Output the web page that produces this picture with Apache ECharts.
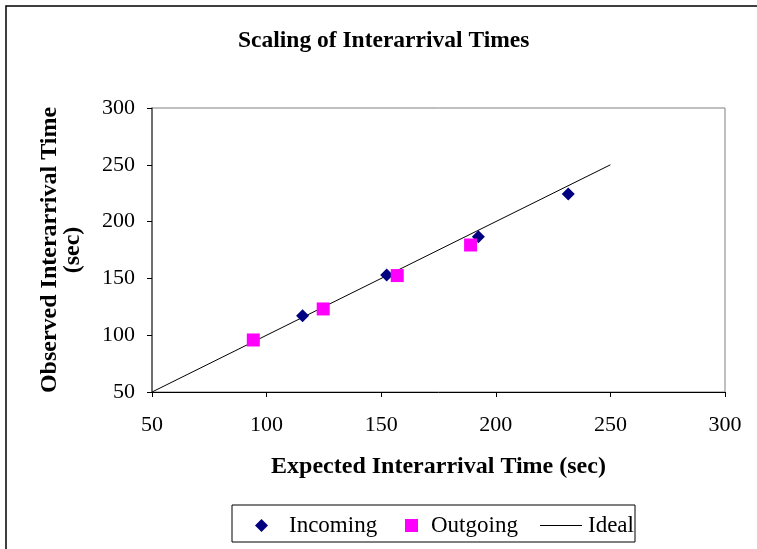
<!DOCTYPE html>
<html>
<head>
<meta charset="utf-8">
<script src="https://cdn.jsdelivr.net/npm/echarts@6/dist/echarts.min.js"></script>
<style>
html,body{margin:0;padding:0;background:#fff;}
#chart{width:757px;height:549px;}
</style>
</head>
<body>
<div id="chart"></div>
<script>
const titleText = 'Scaling of Interarrival Times';
const xAxisName = 'Expected Interarrival Time (sec)';
const yAxisName = 'Observed Interarrival Time\n(sec)';
const seriesNames = ['Incoming', 'Outgoing', 'Ideal'];

const incomingX = [115.7, 152.4, 192.4, 231.6];
const incomingY = [117.2, 153.0, 186.7, 224.3];
const outgoingX = [94.2, 124.7, 157.0, 189.0];
const outgoingY = [95.8, 123.1, 152.5, 179.4];
const idealX = [50, 250];
const idealY = [50, 250];

const axisMin = 50, axisMax = 300, axisStep = 50;

const zip = (a, b) => a.map((v, i) => [v, b[i]]);
const FONT = '"Liberation Serif", "Times New Roman", serif';

const chart = echarts.init(document.getElementById('chart'), null, {renderer: 'canvas'});
chart.setOption({
  animation: false,
  backgroundColor: '#fff',
  textStyle: {fontFamily: FONT, color: '#000'},
  title: {
    text: titleText,
    left: 238, top: 29, padding: 0,
    textStyle: {fontFamily: FONT, fontSize: 23.5, fontWeight: 'bold', color: '#000'}
  },
  grid: {
    left: 152, right: 32, top: 108, bottom: 157,
    show: true, borderColor: '#808080', borderWidth: 1
  },
  xAxis: {
    type: 'value', min: axisMin, max: axisMax, interval: axisStep,
    name: xAxisName, nameLocation: 'middle', nameGap: 63,
    nameTextStyle: {fontFamily: FONT, fontSize: 24, fontWeight: 'bold', color: '#000'},
    axisLine: {show: true, onZero: false, lineStyle: {color: '#000', width: 1}},
    axisTick: {show: true, inside: false, length: 5, lineStyle: {color: '#000'}},
    axisLabel: {fontFamily: FONT, fontSize: 22, color: '#000', margin: 22},
    splitLine: {show: false}
  },
  yAxis: {
    type: 'value', min: axisMin, max: axisMax, interval: axisStep,
    name: yAxisName, nameLocation: 'middle', nameGap: 68, nameRotate: 90,
    nameTextStyle: {fontFamily: FONT, fontSize: 24, fontWeight: 'bold', color: '#000', lineHeight: 23},
    axisLine: {show: true, onZero: false, lineStyle: {color: '#555', width: 1.5}},
    axisTick: {show: true, inside: false, length: 5, lineStyle: {color: '#000'}},
    axisLabel: {fontFamily: FONT, fontSize: 22, color: '#000', margin: 17},
    splitLine: {show: false}
  },
  legend: [
    {
      data: [{name: seriesNames[0], icon: 'diamond'}],
      left: 255, top: 514, padding: 0,
      itemWidth: 13, itemHeight: 13,
      textStyle: {fontFamily: FONT, fontSize: 23, color: '#000', padding: [0, 0, 0, 16]}
    },
    {
      data: [{name: seriesNames[1], icon: 'rect'}],
      left: 405, top: 514, padding: 0,
      itemWidth: 13, itemHeight: 13,
      textStyle: {fontFamily: FONT, fontSize: 23, color: '#000', padding: [0, 0, 0, 8]}
    },
    {
      data: [{name: seriesNames[2], icon: 'rect'}],
      left: 540, top: 514, padding: 0,
      itemWidth: 42, itemHeight: 1,
      textStyle: {fontFamily: FONT, fontSize: 23, color: '#000', padding: [0, 0, 0, 1]}
    }
  ],
  graphic: [
    {type: 'rect', shape: {x: 6, y: 6, width: 800, height: 600}, style: {fill: 'none', stroke: '#000', lineWidth: 1.5}, silent: true},
    {type: 'rect', shape: {x: 232, y: 505, width: 403, height: 37}, style: {fill: 'none', stroke: '#000', lineWidth: 1}, silent: true}
  ],
  series: [
    {
      name: seriesNames[2], type: 'line', data: zip(idealX, idealY),
      symbol: 'none', lineStyle: {color: '#000', width: 1}, itemStyle: {color: '#000'}, z: 1
    },
    {
      name: seriesNames[0], type: 'scatter', data: zip(incomingX, incomingY),
      symbol: 'diamond', symbolSize: 13, itemStyle: {color: '#000080', opacity: 1}, z: 3
    },
    {
      name: seriesNames[1], type: 'scatter', data: zip(outgoingX, outgoingY),
      symbol: 'rect', symbolSize: 13, itemStyle: {color: '#FF00FF', opacity: 1}, z: 3
    }
  ]
});
</script>
</body>
</html>
